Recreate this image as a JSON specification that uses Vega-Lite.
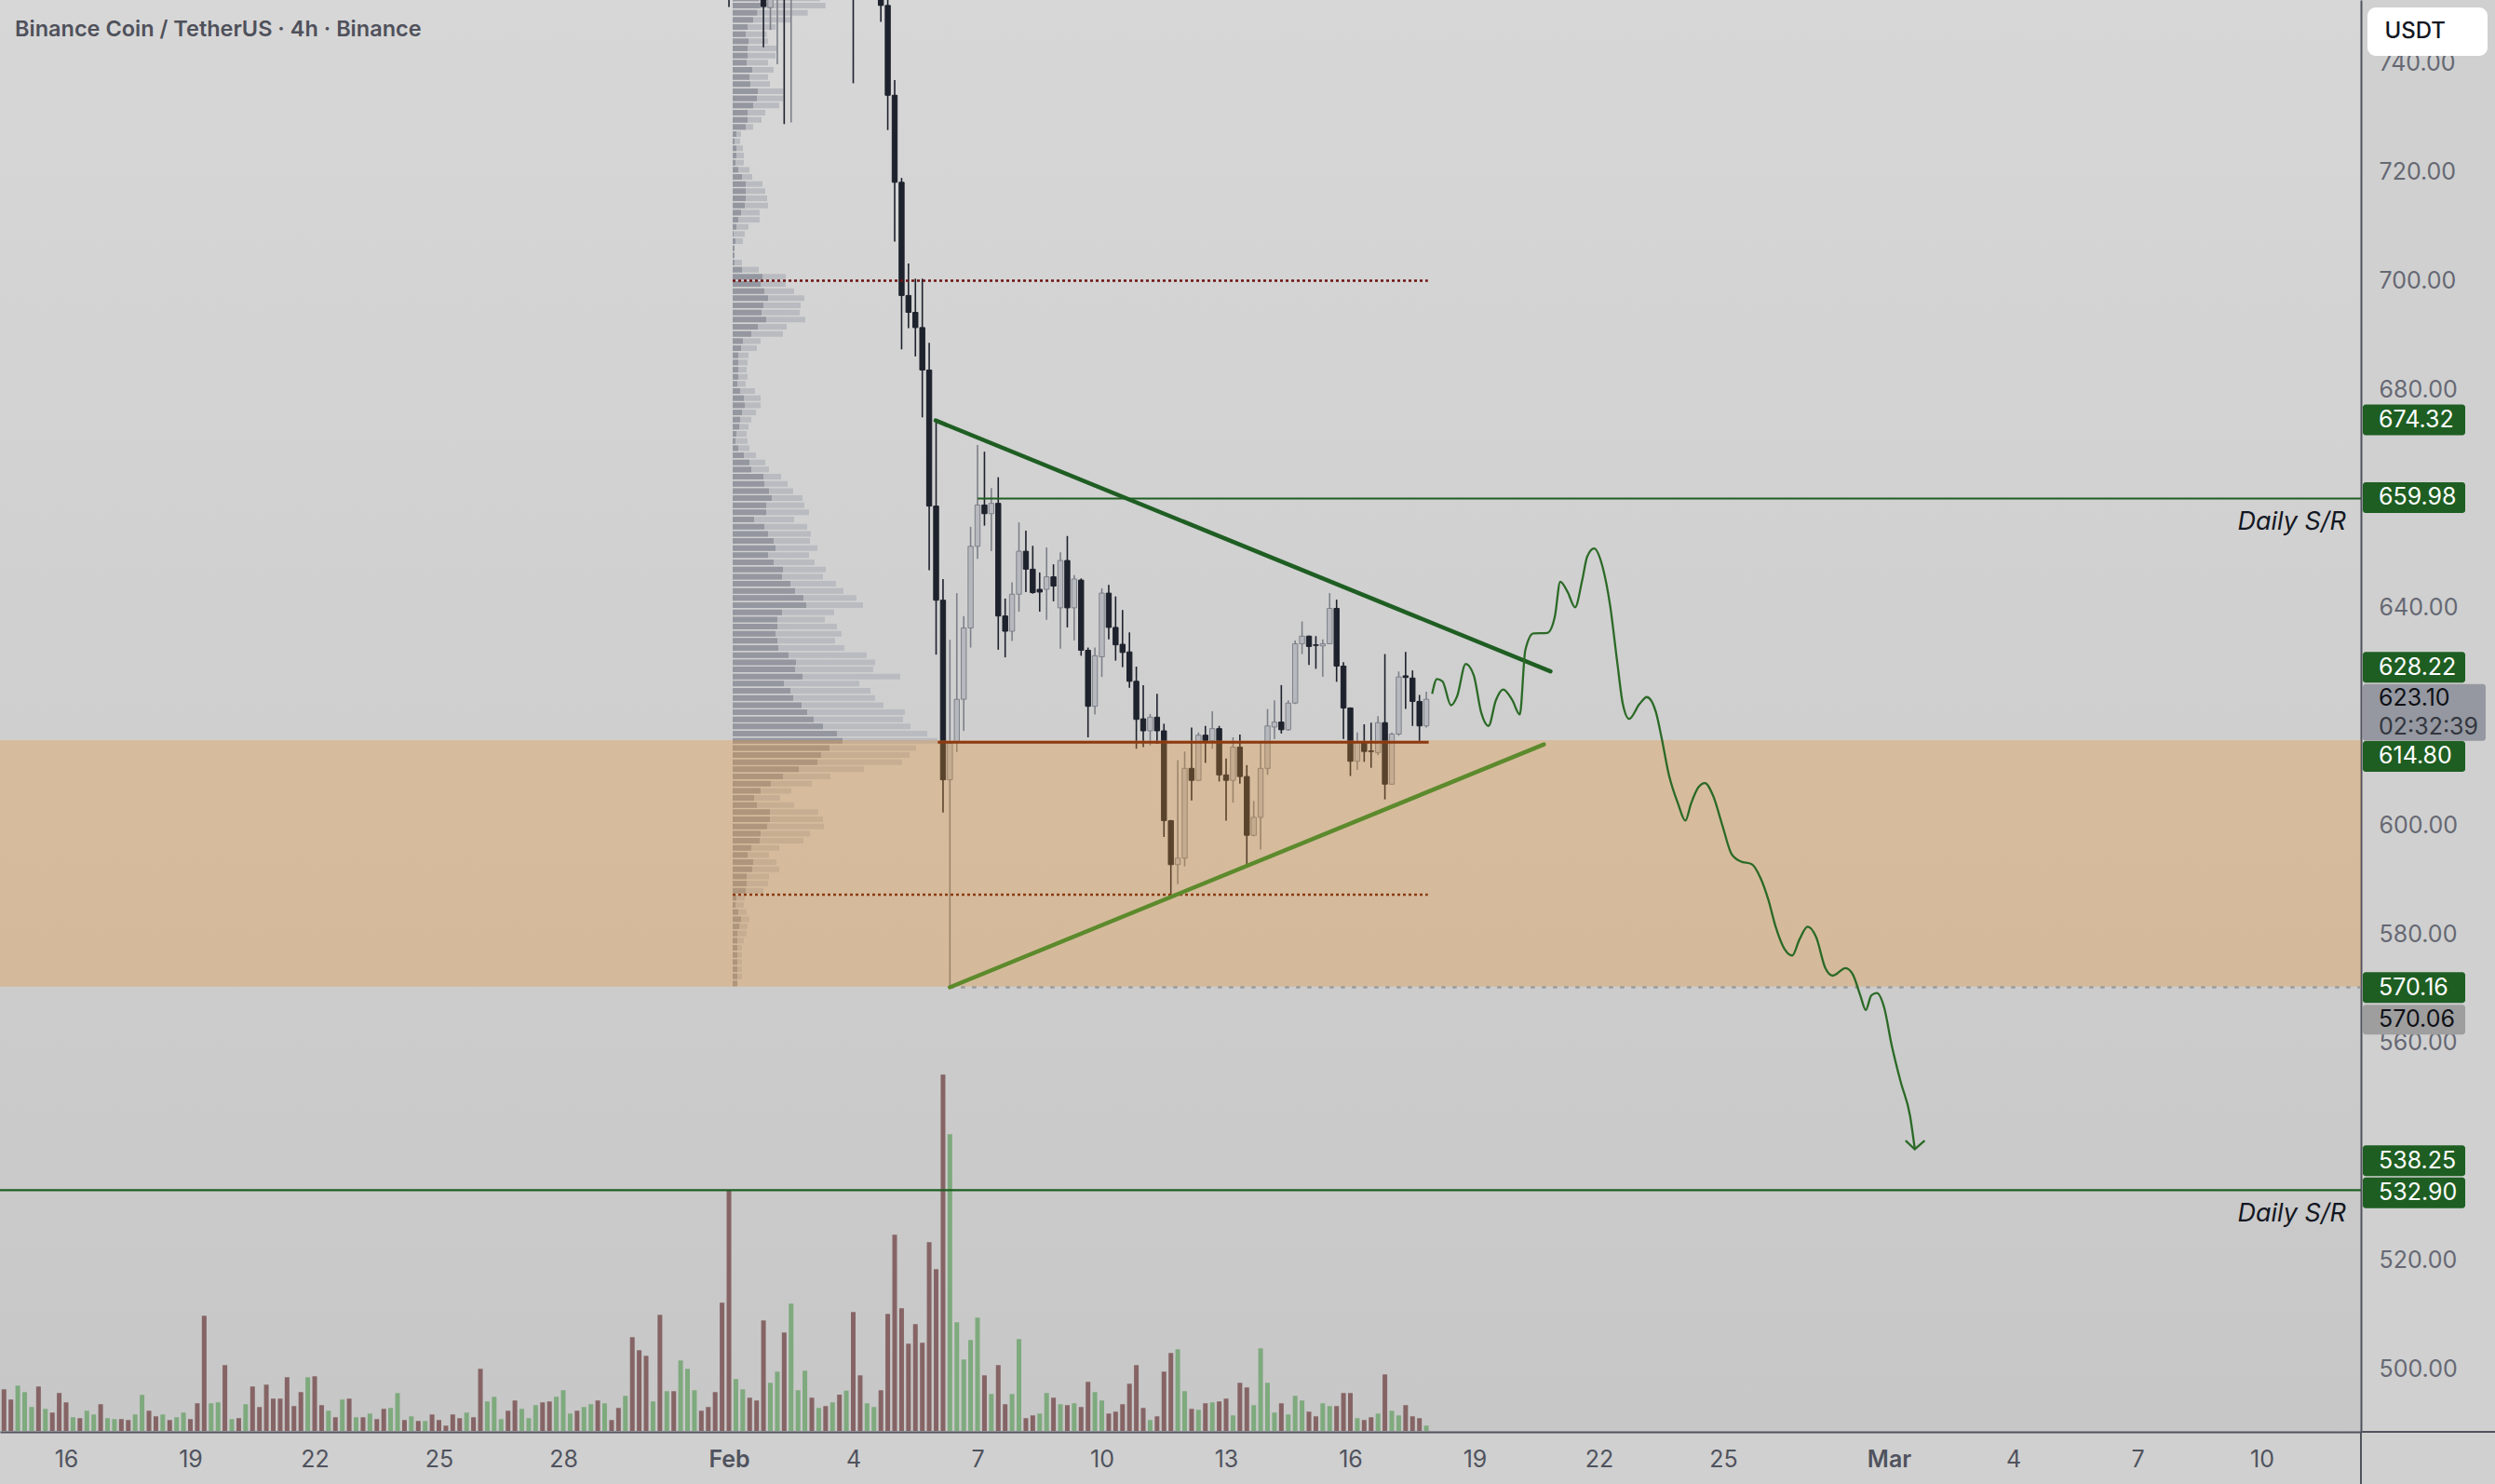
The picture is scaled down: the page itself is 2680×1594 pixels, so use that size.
{
"$schema":"https://vega.github.io/schema/vega-lite/v6.json",
"width":2536,"height":1538,"autosize":{"type":"none"},"padding":{"left":0,"top":0,"right":144,"bottom":56},
"background":"#d0d0d0",
"config":{
 "view":{"stroke":null,"fill":{"gradient":"linear","x1":0,"y1":0,"x2":0,"y2":1,"stops":[{"offset":0,"color":"#d7d7d7"},{"offset":1,"color":"#c7c7c7"}]}},
 "font":"Inter",
 "axis":{"title":null,"grid":false,"ticks":false,"tickSize":0}
},
"datasets":{
 "candles":[
{"d":0,"o":765,"h":770,"l":750.3,"c":755},
{"d":0.833,"o":762,"h":766,"l":742.9,"c":750.4},
{"d":1.0,"o":750.2,"h":764,"l":746.1,"c":758},
{"d":1.167,"o":755,"h":768,"l":739.8,"c":762},
{"d":1.333,"o":766,"h":770,"l":728.8,"c":757},
{"d":1.5,"o":757,"h":772,"l":729.1,"c":767},
{"d":3.0,"o":772,"h":778,"l":736.3,"c":762},
{"d":3.667,"o":758,"h":762,"l":747.6,"c":750.6},
{"d":3.833,"o":750.6,"h":752.5,"l":727.7,"c":734.1},
{"d":4.0,"o":734.1,"h":736.9,"l":707.2,"c":718.1},
{"d":4.167,"o":718.1,"h":718.9,"l":687.4,"c":697.3},
{"d":4.333,"o":697.3,"h":703.2,"l":691.3,"c":694.2},
{"d":4.5,"o":694.2,"h":700.4,"l":686.1,"c":691.4},
{"d":4.667,"o":691.4,"h":700.4,"l":674.9,"c":683.6},
{"d":4.833,"o":683.6,"h":688.6,"l":646.8,"c":658.6},
{"d":5.0,"o":658.6,"h":674.3,"l":631.3,"c":641.3},
{"d":5.167,"o":641.3,"h":645.2,"l":602.3,"c":608.3},
{"d":5.333,"o":608.3,"h":634.0,"l":570.1,"c":615.0},
{"d":5.5,"o":615.2,"h":642.6,"l":613.4,"c":623.1},
{"d":5.667,"o":623.1,"h":638.4,"l":617.3,"c":636.2},
{"d":5.833,"o":636.2,"h":654.8,"l":632.6,"c":651.2},
{"d":6.0,"o":651.2,"h":669.8,"l":648.9,"c":658.8},
{"d":6.167,"o":658.8,"h":668.6,"l":655.0,"c":657.2},
{"d":6.333,"o":657.2,"h":661.9,"l":650.3,"c":659.1},
{"d":6.5,"o":659.1,"h":663.9,"l":632.2,"c":638.4},
{"d":6.667,"o":638.4,"h":641.6,"l":630.8,"c":635.6},
{"d":6.833,"o":635.6,"h":644.6,"l":633.8,"c":642.4},
{"d":7.0,"o":642.4,"h":655.6,"l":639.2,"c":650.3},
{"d":7.167,"o":650.3,"h":654.1,"l":642.8,"c":647.0},
{"d":7.333,"o":647.0,"h":651.3,"l":642.5,"c":642.7},
{"d":7.5,"o":643.3,"h":646.4,"l":639.2,"c":642.8},
{"d":7.667,"o":643.3,"h":651.0,"l":637.7,"c":645.6},
{"d":7.833,"o":645.6,"h":647.9,"l":641.1,"c":643.9},
{"d":8.0,"o":639.9,"h":650.1,"l":632.4,"c":648.6},
{"d":8.167,"o":648.6,"h":653.1,"l":636.3,"c":639.9},
{"d":8.333,"o":639.9,"h":645.9,"l":633.9,"c":645.2},
{"d":8.5,"o":645.0,"h":645.3,"l":631.1,"c":632.1},
{"d":8.667,"o":632.1,"h":632.6,"l":616.1,"c":621.8},
{"d":8.833,"o":621.8,"h":632.6,"l":620.3,"c":631.1},
{"d":9.0,"o":630.9,"h":643.5,"l":627.2,"c":642.6},
{"d":9.167,"o":642.6,"h":644.1,"l":634.1,"c":636.3},
{"d":9.333,"o":636.3,"h":642.0,"l":630.2,"c":633.1},
{"d":9.5,"o":633.2,"h":639.5,"l":629.0,"c":631.7},
{"d":9.667,"o":631.8,"h":635.4,"l":625.2,"c":626.4},
{"d":9.833,"o":626.4,"h":629.1,"l":614.0,"c":619.4},
{"d":10.0,"o":619.5,"h":625.7,"l":614.3,"c":617.3},
{"d":10.167,"o":617.3,"h":620.4,"l":614.6,"c":619.8},
{"d":10.333,"o":619.8,"h":624.1,"l":614.9,"c":617.3},
{"d":10.5,"o":617.3,"h":618.6,"l":597.8,"c":600.8},
{"d":10.667,"o":600.8,"h":600.9,"l":587.0,"c":592.7},
{"d":10.833,"o":592.7,"h":611.9,"l":589.1,"c":593.9},
{"d":11.0,"o":593.9,"h":613.5,"l":592.4,"c":610.4},
{"d":11.167,"o":610.4,"h":617.9,"l":604.5,"c":608.2},
{"d":11.333,"o":608.2,"h":617.0,"l":608.1,"c":616.5},
{"d":11.5,"o":616.5,"h":618.2,"l":611.4,"c":615.5},
{"d":11.667,"o":615.5,"h":620.9,"l":614.0,"c":617.7},
{"d":11.833,"o":617.7,"h":618.2,"l":608.0,"c":609.2},
{"d":12.0,"o":609.2,"h":612.2,"l":600.8,"c":608.2},
{"d":12.167,"o":608.2,"h":616.1,"l":604.1,"c":614.3},
{"d":12.333,"o":614.3,"h":616.6,"l":607.6,"c":608.9},
{"d":12.5,"o":608.9,"h":611.0,"l":592.7,"c":598.1},
{"d":12.667,"o":598.1,"h":604.4,"l":597.9,"c":601.4},
{"d":12.833,"o":601.4,"h":615.2,"l":595.5,"c":610.4},
{"d":13.0,"o":610.4,"h":621.3,"l":609.2,"c":618.2},
{"d":13.167,"o":618.0,"h":622.9,"l":615.8,"c":618.9},
{"d":13.333,"o":618.9,"h":625.7,"l":616.8,"c":617.5},
{"d":13.5,"o":617.5,"h":622.9,"l":617.3,"c":622.4},
{"d":13.667,"o":622.4,"h":633.9,"l":622.2,"c":633.3},
{"d":13.833,"o":633.3,"h":637.4,"l":631.4,"c":634.7},
{"d":14.0,"o":634.7,"h":634.8,"l":629.4,"c":632.8},
{"d":14.167,"o":633.1,"h":634.7,"l":628.7,"c":633.0},
{"d":14.333,"o":632.9,"h":634.1,"l":627.2,"c":633.3},
{"d":14.5,"o":633.3,"h":642.6,"l":633.2,"c":639.8},
{"d":14.667,"o":639.8,"h":641.4,"l":626.3,"c":629.2},
{"d":14.833,"o":629.2,"h":629.9,"l":615.8,"c":621.5},
{"d":15.0,"o":621.5,"h":621.6,"l":609.0,"c":611.7},
{"d":15.167,"o":611.7,"h":617.0,"l":610.1,"c":615.2},
{"d":15.333,"o":615.2,"h":618.5,"l":611.6,"c":613.5},
{"d":15.5,"o":613.6,"h":618.8,"l":610.5,"c":613.5},
{"d":15.667,"o":613.3,"h":620.0,"l":612.8,"c":618.8},
{"d":15.833,"o":618.8,"h":631.4,"l":604.7,"c":607.5},
{"d":16.0,"o":607.5,"h":617.0,"l":607.4,"c":616.7},
{"d":16.167,"o":616.7,"h":628.2,"l":616.4,"c":627.2},
{"d":16.333,"o":627.4,"h":631.8,"l":621.3,"c":627.1},
{"d":16.5,"o":627.0,"h":628.4,"l":618.2,"c":622.7},
{"d":16.667,"o":622.7,"h":623.9,"l":615.3,"c":618.2},
{"d":16.833,"o":618.2,"h":624.5,"l":617.9,"c":623.1}
 ],
 "vol":[
{"d":-17.667,"v":53.3,"u":1},{"d":-17.5,"v":44.7,"u":0},{"d":-17.333,"v":33.7,"u":0},{"d":-17.167,"v":48.7,"u":1},{"d":-17.0,"v":41.7,"u":1},{"d":-16.833,"v":25.7,"u":1},{"d":-16.667,"v":47.7,"u":0},{"d":-16.5,"v":23.7,"u":1},{"d":-16.333,"v":19.7,"u":0},{"d":-16.167,"v":40.7,"u":0},
{"d":-16.0,"v":30.7,"u":0},{"d":-15.833,"v":14.7,"u":1},{"d":-15.667,"v":13.7,"u":0},{"d":-15.5,"v":21.7,"u":1},{"d":-15.333,"v":17.7,"u":1},{"d":-15.167,"v":28.7,"u":0},{"d":-15.0,"v":13.7,"u":1},{"d":-14.833,"v":12.7,"u":1},{"d":-14.667,"v":12.7,"u":0},{"d":-14.5,"v":11.7,"u":0},
{"d":-14.333,"v":17.7,"u":1},{"d":-14.167,"v":38.7,"u":1},{"d":-14.0,"v":21.7,"u":0},{"d":-13.833,"v":15.7,"u":0},{"d":-13.667,"v":17.7,"u":1},{"d":-13.5,"v":11.7,"u":0},{"d":-13.333,"v":14.7,"u":1},{"d":-13.167,"v":19.7,"u":1},{"d":-13.0,"v":12.7,"u":0},{"d":-12.833,"v":29.7,"u":0},
{"d":-12.667,"v":123.7,"u":0},{"d":-12.5,"v":29.7,"u":1},{"d":-12.333,"v":30.7,"u":1},{"d":-12.167,"v":70.7,"u":0},{"d":-12.0,"v":12.7,"u":1},{"d":-11.833,"v":13.7,"u":0},{"d":-11.667,"v":28.7,"u":1},{"d":-11.5,"v":47.7,"u":0},{"d":-11.333,"v":25.7,"u":0},{"d":-11.167,"v":49.7,"u":0},
{"d":-11.0,"v":34.7,"u":0},{"d":-10.833,"v":34.7,"u":0},{"d":-10.667,"v":57.7,"u":0},{"d":-10.5,"v":26.7,"u":0},{"d":-10.333,"v":41.7,"u":0},{"d":-10.167,"v":57.7,"u":1},{"d":-10.0,"v":58.7,"u":0},{"d":-9.833,"v":27.7,"u":0},{"d":-9.667,"v":21.7,"u":1},{"d":-9.5,"v":14.7,"u":0},
{"d":-9.333,"v":33.7,"u":1},{"d":-9.167,"v":34.7,"u":0},{"d":-9.0,"v":14.7,"u":1},{"d":-8.833,"v":14.7,"u":0},{"d":-8.667,"v":18.7,"u":1},{"d":-8.5,"v":12.7,"u":0},{"d":-8.333,"v":23.7,"u":0},{"d":-8.167,"v":24.7,"u":1},{"d":-8.0,"v":40.7,"u":1},{"d":-7.833,"v":11.7,"u":0},
{"d":-7.667,"v":15.7,"u":1},{"d":-7.5,"v":10.7,"u":0},{"d":-7.333,"v":10.7,"u":1},{"d":-7.167,"v":17.7,"u":0},{"d":-7.0,"v":11.7,"u":0},{"d":-6.833,"v":5.7,"u":0},{"d":-6.667,"v":17.7,"u":0},{"d":-6.5,"v":13.7,"u":0},{"d":-6.333,"v":19.7,"u":1},{"d":-6.167,"v":14.7,"u":0},
{"d":-6.0,"v":66.7,"u":0},{"d":-5.833,"v":31.7,"u":1},{"d":-5.667,"v":36.7,"u":1},{"d":-5.5,"v":12.7,"u":1},{"d":-5.333,"v":21.7,"u":0},{"d":-5.167,"v":32.7,"u":0},{"d":-5.0,"v":23.7,"u":1},{"d":-4.833,"v":13.7,"u":1},{"d":-4.667,"v":27.7,"u":1},{"d":-4.5,"v":30.7,"u":0},
{"d":-4.333,"v":31.7,"u":0},{"d":-4.167,"v":36.7,"u":1},{"d":-4.0,"v":43.7,"u":1},{"d":-3.833,"v":18.7,"u":1},{"d":-3.667,"v":21.7,"u":0},{"d":-3.5,"v":25.7,"u":1},{"d":-3.333,"v":28.7,"u":1},{"d":-3.167,"v":32.7,"u":0},{"d":-3.0,"v":29.7,"u":1},{"d":-2.833,"v":11.7,"u":0},
{"d":-2.667,"v":24.7,"u":0},{"d":-2.5,"v":37.7,"u":1},{"d":-2.333,"v":100.7,"u":0},{"d":-2.167,"v":86.7,"u":0},{"d":-2.0,"v":80.7,"u":0},{"d":-1.833,"v":31.7,"u":1},{"d":-1.667,"v":124.7,"u":0},{"d":-1.5,"v":42.7,"u":1},{"d":-1.333,"v":42.7,"u":0},{"d":-1.167,"v":75.7,"u":1},
{"d":-1.0,"v":66.7,"u":1},{"d":-0.833,"v":43.7,"u":1},{"d":-0.667,"v":21.7,"u":0},{"d":-0.5,"v":25.7,"u":0},{"d":-0.333,"v":41.7,"u":0},{"d":-0.167,"v":137.7,"u":0},{"d":0,"v":259,"u":0},{"d":0.167,"v":55.7,"u":1},{"d":0.333,"v":44.7,"u":1},{"d":0.5,"v":35.7,"u":0},
{"d":0.667,"v":32.7,"u":0},{"d":0.833,"v":118.7,"u":0},{"d":1.0,"v":51.7,"u":1},{"d":1.167,"v":63.7,"u":1},{"d":1.333,"v":105.7,"u":0},{"d":1.5,"v":136.7,"u":1},{"d":1.667,"v":43.7,"u":1},{"d":1.833,"v":64.7,"u":1},{"d":2.0,"v":35.7,"u":0},{"d":2.167,"v":24.7,"u":1},
{"d":2.333,"v":26.7,"u":0},{"d":2.5,"v":30.7,"u":1},
{"d":2.667,"v":39,"u":0},{"d":2.833,"v":43.3,"u":1},{"d":3.0,"v":127.7,"u":0},{"d":3.167,"v":59.7,"u":0},{"d":3.333,"v":29.7,"u":1},{"d":3.5,"v":25.7,"u":1},{"d":3.667,"v":43.7,"u":0},{"d":3.833,"v":125.7,"u":0},{"d":4.0,"v":210.7,"u":0},{"d":4.167,"v":131.7,"u":0},
{"d":4.333,"v":93.7,"u":0},{"d":4.5,"v":114.7,"u":0},{"d":4.667,"v":94.7,"u":0},{"d":4.833,"v":202.7,"u":0},{"d":5.0,"v":173.7,"u":0},{"d":5.167,"v":382.7,"u":0},{"d":5.333,"v":318.7,"u":1},{"d":5.5,"v":116.7,"u":1},{"d":5.667,"v":76.7,"u":1},{"d":5.833,"v":97.7,"u":1},
{"d":6.0,"v":121.7,"u":1},{"d":6.167,"v":59.7,"u":0},{"d":6.333,"v":39.7,"u":1},{"d":6.5,"v":70.7,"u":0},{"d":6.667,"v":28.7,"u":0},{"d":6.833,"v":39.7,"u":1},{"d":7.0,"v":98.7,"u":1},{"d":7.167,"v":13.7,"u":0},{"d":7.333,"v":16.7,"u":0},{"d":7.5,"v":18.7,"u":1},
{"d":7.667,"v":40.7,"u":1},{"d":7.833,"v":35.7,"u":0},{"d":8.0,"v":28.7,"u":1},{"d":8.167,"v":27.7,"u":0},{"d":8.333,"v":29.7,"u":1},{"d":8.5,"v":25.7,"u":0},{"d":8.667,"v":52.7,"u":0},{"d":8.833,"v":41.7,"u":1},{"d":9.0,"v":32.7,"u":1},{"d":9.167,"v":18.7,"u":0},
{"d":9.333,"v":20.7,"u":0},{"d":9.5,"v":28.7,"u":0},{"d":9.667,"v":50.7,"u":0},{"d":9.833,"v":70.7,"u":0},{"d":10.0,"v":24.7,"u":0},{"d":10.167,"v":11.7,"u":1},{"d":10.333,"v":15.7,"u":0},{"d":10.5,"v":63.7,"u":0},{"d":10.667,"v":83.7,"u":0},{"d":10.833,"v":87.7,"u":1},
{"d":11.0,"v":42.7,"u":1},{"d":11.167,"v":23.7,"u":0},{"d":11.333,"v":22.7,"u":1},{"d":11.5,"v":29.7,"u":0},{"d":11.667,"v":30.7,"u":1},{"d":11.833,"v":31.7,"u":0},{"d":12.0,"v":34.7,"u":0},{"d":12.167,"v":16.7,"u":1},{"d":12.333,"v":51.7,"u":0},{"d":12.5,"v":46.7,"u":0},
{"d":12.667,"v":27.7,"u":1},{"d":12.833,"v":88.7,"u":1},{"d":13.0,"v":51.7,"u":1},{"d":13.167,"v":19.7,"u":1},{"d":13.333,"v":29.7,"u":0},{"d":13.5,"v":17.7,"u":1},{"d":13.667,"v":37.7,"u":1},{"d":13.833,"v":32.7,"u":1},{"d":14.0,"v":20.7,"u":0},{"d":14.167,"v":15.7,"u":0},
{"d":14.333,"v":29.7,"u":1},{"d":14.5,"v":26.7,"u":1},{"d":14.667,"v":26.7,"u":0},{"d":14.833,"v":40.7,"u":0},{"d":15.0,"v":40.7,"u":0},{"d":15.167,"v":13.7,"u":1},{"d":15.333,"v":11.7,"u":0},{"d":15.5,"v":14.7,"u":0},{"d":15.667,"v":18.7,"u":1},{"d":15.833,"v":60.7,"u":0},
{"d":16.0,"v":21.7,"u":1},{"d":16.167,"v":16.7,"u":1},{"d":16.333,"v":27.7,"u":0},{"d":16.5,"v":15.7,"u":0},{"d":16.667,"v":13.7,"u":0},{"d":16.833,"v":5.7,"u":1}
 ],
 "prof":[
{"p":751.88,"u":28,"t":93.7},{"p":750.57,"u":29.7,"t":99.7},{"p":749.26,"u":26.3,"t":80.7},{"p":747.95,"u":22,"t":62},{"p":746.64,"u":16,"t":46.3},{"p":745.32,"u":14,"t":36.7},{"p":744.01,"u":17,"t":38},{"p":742.7,"u":16,"t":47.3},{"p":741.39,"u":16,"t":46},{"p":740.08,"u":15,"t":38},
{"p":738.77,"u":21,"t":44},{"p":737.45,"u":18,"t":38},{"p":736.14,"u":19,"t":40},{"p":734.83,"u":27,"t":54.3},{"p":733.52,"u":26,"t":54.3},{"p":732.21,"u":22,"t":50},{"p":730.89,"u":16,"t":35},{"p":729.58,"u":16,"t":31},{"p":728.27,"u":14,"t":22},{"p":726.96,"u":4,"t":9},
{"p":725.65,"u":2,"t":8},{"p":724.34,"u":4,"t":11},{"p":723.02,"u":4,"t":12},{"p":721.71,"u":3,"t":12},{"p":720.4,"u":6,"t":18},{"p":719.09,"u":10,"t":21},{"p":717.78,"u":14,"t":32},{"p":716.47,"u":14,"t":35},{"p":715.15,"u":14,"t":37},{"p":713.84,"u":13,"t":38},
{"p":712.53,"u":9,"t":29},{"p":711.22,"u":6,"t":29},{"p":709.91,"u":4,"t":17},{"p":708.6,"u":1,"t":13},{"p":707.28,"u":3,"t":11},{"p":705.97,"u":2,"t":2},{"p":704.66,"u":2,"t":2},{"p":703.35,"u":2,"t":10},{"p":702.04,"u":10,"t":28},{"p":700.73,"u":32,"t":57},
{"p":699.41,"u":30,"t":57},{"p":698.1,"u":34,"t":66},{"p":696.79,"u":38,"t":77},{"p":695.48,"u":33,"t":73},{"p":694.17,"u":31,"t":72},{"p":692.86,"u":36,"t":78},{"p":691.54,"u":27,"t":58},{"p":690.23,"u":20,"t":54},{"p":688.92,"u":11,"t":30},{"p":687.61,"u":9,"t":26},
{"p":686.3,"u":6,"t":17},{"p":684.99,"u":6,"t":16},{"p":683.67,"u":6,"t":15},{"p":682.36,"u":6,"t":16},{"p":681.05,"u":5,"t":14},{"p":679.74,"u":8,"t":24},{"p":678.43,"u":12,"t":30},{"p":677.12,"u":13,"t":30},{"p":675.8,"u":10,"t":25},{"p":674.49,"u":8,"t":20},
{"p":673.18,"u":7,"t":17},{"p":671.87,"u":4,"t":15},{"p":670.56,"u":3,"t":16},{"p":669.24,"u":6,"t":18},{"p":667.93,"u":12,"t":25},{"p":666.62,"u":18,"t":35},{"p":665.31,"u":20,"t":39},{"p":664.0,"u":33,"t":52},{"p":662.69,"u":34,"t":59},{"p":661.37,"u":39,"t":65},
{"p":660.06,"u":42,"t":75},{"p":658.75,"u":36,"t":77},{"p":657.44,"u":36,"t":82},{"p":656.13,"u":23,"t":66},{"p":654.82,"u":34,"t":80},{"p":653.5,"u":38,"t":84},{"p":652.19,"u":44,"t":83},{"p":650.88,"u":46,"t":91},{"p":649.57,"u":38,"t":82},{"p":648.26,"u":44,"t":88},
{"p":646.95,"u":54,"t":100},{"p":645.63,"u":53,"t":97},{"p":644.32,"u":62,"t":111},{"p":643.01,"u":67,"t":119},{"p":641.7,"u":76,"t":133},{"p":640.39,"u":79,"t":140},{"p":639.08,"u":53,"t":109},{"p":637.76,"u":48,"t":99},{"p":636.45,"u":48,"t":112},{"p":635.14,"u":46,"t":117},
{"p":633.83,"u":48,"t":110},{"p":632.52,"u":49,"t":120},{"p":631.21,"u":60,"t":144},{"p":629.89,"u":68,"t":153},{"p":628.58,"u":67,"t":151},{"p":627.27,"u":75,"t":180},{"p":625.96,"u":55,"t":136},{"p":624.65,"u":62,"t":148},{"p":623.34,"u":65,"t":153},{"p":622.02,"u":74,"t":162},
{"p":620.71,"u":80,"t":185},{"p":619.4,"u":87,"t":183},{"p":618.09,"u":97,"t":191},{"p":616.78,"u":112,"t":209},{"p":615.47,"u":118,"t":220},{"p":614.15,"u":104,"t":197},{"p":612.84,"u":95,"t":190},{"p":611.53,"u":91,"t":182},{"p":610.22,"u":71,"t":141},{"p":608.91,"u":54,"t":105},
{"p":607.6,"u":41,"t":85},{"p":606.28,"u":30,"t":63},{"p":604.97,"u":23,"t":51},{"p":603.66,"u":26,"t":66},{"p":602.35,"u":40,"t":92},{"p":601.04,"u":40,"t":97},{"p":599.73,"u":37,"t":98},{"p":598.41,"u":30,"t":83},{"p":597.1,"u":29,"t":76},{"p":595.79,"u":20,"t":50},
{"p":594.48,"u":16,"t":39},{"p":593.17,"u":22,"t":47},{"p":591.86,"u":21,"t":50},{"p":590.54,"u":15,"t":39},{"p":589.23,"u":15,"t":38},{"p":587.92,"u":14,"t":33},{"p":586.61,"u":4,"t":13},{"p":585.3,"u":3,"t":12},{"p":583.99,"u":6,"t":15},{"p":582.67,"u":9,"t":18},
{"p":581.36,"u":7,"t":16},{"p":580.05,"u":5,"t":15},{"p":578.74,"u":5,"t":12},{"p":577.43,"u":5,"t":10},{"p":576.12,"u":5,"t":10},{"p":574.8,"u":5,"t":10},{"p":573.49,"u":5,"t":10},{"p":572.18,"u":5,"t":10},{"p":570.87,"u":5,"t":5}
 ],
 "hl":[
{"k":"sr","d1":6.0,"d2":39.393,"p":659.98},
{"k":"sr","d1":-17.596,"d2":39.393,"p":532.9},
{"k":"poc","d1":5.04,"d2":16.89,"p":615.2},
{"k":"vah","d1":0.09,"d2":16.87,"p":700.0},
{"k":"val","d1":0.09,"d2":16.87,"p":587.2},
{"k":"low","d1":5.33,"d2":39.393,"p":570.16}
 ],
 "tri":[
{"k":"a","d1":4.99,"p1":674.32,"d2":19.83,"p2":628.22},
{"k":"b","d1":5.33,"p1":570.16,"d2":19.67,"p2":614.8}
 ],
 "path":[
{"d":16.974,"p":624.1},{"d":17.089,"p":626.8},{"d":17.223,"p":626.4},{"d":17.427,"p":622.0},{"d":17.578,"p":623.7},{"d":17.783,"p":629.6},{"d":17.978,"p":627.5},{"d":18.156,"p":620.7},{"d":18.334,"p":618.2},{"d":18.511,"p":622.9},{"d":18.689,"p":624.9},{"d":18.911,"p":622.9},{"d":19.089,"p":620.3},{"d":19.222,"p":632.1},{"d":19.418,"p":635.2},{"d":19.755,"p":635.3},{"d":19.933,"p":638.2},{"d":20.066,"p":644.7},{"d":20.244,"p":642.8},{"d":20.422,"p":640.0},{"d":20.599,"p":645.1},{"d":20.715,"p":649.3},{"d":20.884,"p":650.8},{"d":21.088,"p":647.4},{"d":21.266,"p":640.5},{"d":21.443,"p":629.8},{"d":21.577,"p":622.2},{"d":21.728,"p":619.5},{"d":21.977,"p":622.2},{"d":22.154,"p":623.5},{"d":22.376,"p":620.7},{"d":22.51,"p":616.1},{"d":22.688,"p":609.2},{"d":22.91,"p":603.9},{"d":23.087,"p":600.8},{"d":23.221,"p":603.9},{"d":23.398,"p":606.9},{"d":23.558,"p":607.7},{"d":23.754,"p":605.4},{"d":23.976,"p":600.0},{"d":24.198,"p":594.7},{"d":24.42,"p":593.3},{"d":24.687,"p":592.8},{"d":24.909,"p":590.1},{"d":25.087,"p":586.3},{"d":25.265,"p":581.3},{"d":25.487,"p":577.1},{"d":25.664,"p":576.0},{"d":25.842,"p":579.0},{"d":26.037,"p":581.3},{"d":26.242,"p":579.4},{"d":26.464,"p":573.7},{"d":26.642,"p":572.3},{"d":26.953,"p":573.7},{"d":27.13,"p":572.5},{"d":27.308,"p":568.7},{"d":27.441,"p":566.0},{"d":27.575,"p":568.7},{"d":27.708,"p":569.1},{"d":27.886,"p":566.4},{"d":28.064,"p":559.6},{"d":28.286,"p":552.7},{"d":28.508,"p":546.6},{"d":28.623,"p":540.5}
 ],
 "arrow":[{"d":28.401,"p":542.0},{"d":28.623,"p":540.4},{"d":28.863,"p":542.0}],
 "gl":[
{"p":674.44,"t":"674.32"},{"p":660.17,"t":"659.98"},{"p":628.96,"t":"628.22"},{"p":612.6,"t":"614.80"},{"p":570.1,"t":"570.16"},{"p":538.3,"t":"538.25"},{"p":532.4,"t":"532.90"}
 ],
 "sr":[{"p":655.7,"t":"Daily S/R"},{"p":528.5,"t":"Daily S/R"}],
 "frame":[{"d1":39.393,"d2":39.393,"p1":488.47,"p2":478.8},{"d1":39.393,"d2":42.7,"p1":488.47,"p2":488.47}]
},
"resolve":{"scale":{"x":"independent","y":"independent"}},
"layer":[
 {
  "data":{"name":"frame"},"mark":{"type":"rule","color":"#50535e","strokeWidth":2},
  "encoding":{
   "x":{"field":"d1","type":"quantitative","scale":{"domain":[-17.596,39.393],"nice":false,"zero":false,"padding":0},
    "axis":{"orient":"bottom","values":[-16,-13,-10,-7,-4,0,3,6,9,12,15,18,21,24,28,31,34,37],
     "labelExpr":"datum.value==0?'Feb':datum.value==28?'Mar':datum.value<0?format(datum.value+32,'d'):datum.value<28?format(datum.value+1,'d'):format(datum.value-27,'d')",
     "domain":true,"domainColor":"#50535e","domainWidth":2,"ticks":false,"tickSize":0,"labelPadding":29,"labelBaseline":"middle","labelFontSize":25,"labelColor":"#50535e","labelFont":"Inter",
     "labelFontWeight":{"condition":{"test":"datum.value==0||datum.value==28","value":600},"value":400},"labelOverlap":false,"labelFlush":false}},
   "x2":{"field":"d2"},
   "y":{"field":"p1","type":"quantitative","scale":{"domain":[488.47,751.6],"nice":false,"zero":false,"padding":0},
    "axis":{"orient":"right","values":[500,520,560,580,600,640,680,700,720,740],"format":".2f",
     "domain":true,"domainColor":"#50535e","domainWidth":2,"ticks":false,"tickSize":0,"labelPadding":19,"labelAlign":"left","labelBaseline":"middle","labelFontSize":25,"labelColor":"#666873","labelFont":"Inter","labelOverlap":false,"labelFlush":false}},
   "y2":{"field":"p2"}
  }
 },
 {
  "data":{"name":"prof"},
  "layer":[
   {"mark":{"type":"bar","height":6,"color":"#b9bbc0"},
    "encoding":{"x":{"field":"t","type":"quantitative","scale":{"domain":[-787,1749],"nice":false,"zero":false,"padding":0},"axis":null},"x2":{"datum":0},
     "y":{"field":"p","type":"quantitative","scale":{"domain":[488.47,751.6],"nice":false,"zero":false,"padding":0},"axis":null}}},
   {"mark":{"type":"bar","height":6,"color":"#9597a0"},
    "encoding":{"x":{"field":"u","type":"quantitative","axis":null},"x2":{"datum":0},
     "y":{"field":"p","type":"quantitative","axis":null}}}
  ]
 },
 {
  "data":{"name":"vol"},
  "mark":{"type":"bar","width":5},
  "encoding":{
   "x":{"field":"d","type":"quantitative","scale":{"domain":[-17.596,39.393],"nice":false,"zero":false,"padding":0},"axis":null},
   "y":{"field":"v","type":"quantitative","scale":{"domain":[-1,1537],"nice":false,"zero":false,"padding":0},"axis":null},
   "y2":{"datum":0},
   "color":{"condition":{"test":"datum.u==1","value":"#7eaa7e"},"value":"#866465"}
  }
 },
 {
  "layer":[
   {"data":{"name":"candles"},"mark":{"type":"rule","strokeWidth":1.6},
    "encoding":{
     "x":{"field":"d","type":"quantitative","scale":{"domain":[-17.596,39.393],"nice":false,"zero":false,"padding":0},"axis":null},
     "y":{"field":"l","type":"quantitative","scale":{"domain":[488.47,751.6],"nice":false,"zero":false,"padding":0},"axis":null},
     "y2":{"field":"h"},
     "color":{"condition":{"test":"datum.c>=datum.o","value":"#7d8089"},"value":"#1e222d"}}},
   {"data":{"name":"candles"},"mark":{"type":"bar","width":5.4,"strokeWidth":1},
    "encoding":{"x":{"field":"d","type":"quantitative","axis":null},"y":{"field":"o","type":"quantitative","axis":null},"y2":{"field":"c"},
     "fill":{"condition":{"test":"datum.c>=datum.o","value":"#b6b8be"},"value":"#1e222d"},
     "stroke":{"condition":{"test":"datum.c>=datum.o","value":"#7d8089"},"value":"#1e222d"}}},
   {"data":{"values":[{"d1":-17.596,"d2":39.393,"lo":570.3,"hi":615.6}]},"mark":{"type":"rect","color":"#e8932a","opacity":0.3},
    "encoding":{"x":{"field":"d1","type":"quantitative","axis":null},"x2":{"field":"d2"},"y":{"field":"lo","type":"quantitative","axis":null},"y2":{"field":"hi"}}},
   {"data":{"name":"hl"},"transform":[{"filter":"datum.k=='sr'"}],"mark":{"type":"rule","color":"#1e5e22","strokeWidth":2.2},
    "encoding":{"x":{"field":"d1","type":"quantitative","axis":null},"x2":{"field":"d2"},"y":{"field":"p","type":"quantitative","axis":null}}},
   {"data":{"name":"hl"},"transform":[{"filter":"datum.k=='poc'"}],"mark":{"type":"rule","color":"#8c3a12","strokeWidth":3},
    "encoding":{"x":{"field":"d1","type":"quantitative","axis":null},"x2":{"field":"d2"},"y":{"field":"p","type":"quantitative","axis":null}}},
   {"data":{"name":"hl"},"transform":[{"filter":"datum.k=='vah'"}],"mark":{"type":"rule","color":"#6e1111","strokeWidth":2.5,"strokeDash":[3,3]},
    "encoding":{"x":{"field":"d1","type":"quantitative","axis":null},"x2":{"field":"d2"},"y":{"field":"p","type":"quantitative","axis":null}}},
   {"data":{"name":"hl"},"transform":[{"filter":"datum.k=='val'"}],"mark":{"type":"rule","color":"#8c3a12","strokeWidth":2.5,"strokeDash":[3,3]},
    "encoding":{"x":{"field":"d1","type":"quantitative","axis":null},"x2":{"field":"d2"},"y":{"field":"p","type":"quantitative","axis":null}}},
   {"data":{"name":"hl"},"transform":[{"filter":"datum.k=='low'"}],"mark":{"type":"rule","color":"#9b9b9b","strokeWidth":2.5,"strokeDash":[4.5,7.5]},
    "encoding":{"x":{"field":"d1","type":"quantitative","axis":null},"x2":{"field":"d2"},"y":{"field":"p","type":"quantitative","axis":null}}},
   {"data":{"name":"tri"},"mark":{"type":"rule","strokeWidth":4.5,"strokeCap":"round"},
    "encoding":{"x":{"field":"d1","type":"quantitative","axis":null},"x2":{"field":"d2"},"y":{"field":"p1","type":"quantitative","axis":null},"y2":{"field":"p2"},
     "color":{"condition":{"test":"datum.k=='a'","value":"#1f5e23"},"value":"#5c8a2c"}}},
   {"data":{"name":"path"},"mark":{"type":"line","interpolate":"monotone","color":"#2b6a26","strokeWidth":2.3},
    "encoding":{"x":{"field":"d","type":"quantitative","axis":null},"y":{"field":"p","type":"quantitative","axis":null}}},
   {"data":{"name":"arrow"},"mark":{"type":"line","color":"#2b6a26","strokeWidth":2.3},
    "encoding":{"x":{"field":"d","type":"quantitative","axis":null},"y":{"field":"p","type":"quantitative","axis":null}}},
   {"data":{"name":"gl"},"mark":{"type":"tick","orient":"horizontal","size":110,"thickness":33,"color":"#1e5e22","opacity":1,"cornerRadius":3},
    "encoding":{"x":{"datum":40.674,"type":"quantitative","axis":null},"y":{"field":"p","type":"quantitative","axis":null}}},
   {"data":{"name":"gl"},"mark":{"type":"text","align":"left","baseline":"middle","color":"#ffffff","fontSize":25,"font":"Inter"},
    "encoding":{"x":{"datum":39.82,"type":"quantitative","axis":null},"y":{"field":"p","type":"quantitative","axis":null},"text":{"field":"t"}}},
   {"data":{"values":[{"p":620.67}]},"mark":{"type":"tick","orient":"horizontal","size":132,"thickness":61,"color":"#9598a0","opacity":1,"cornerRadius":3},
    "encoding":{"x":{"datum":40.921,"type":"quantitative","axis":null},"y":{"field":"p","type":"quantitative","axis":null}}},
   {"data":{"values":[{"p":564.2}]},"mark":{"type":"tick","orient":"horizontal","size":110,"thickness":32,"color":"#9e9e9e","opacity":1,"cornerRadius":3},
    "encoding":{"x":{"datum":40.674,"type":"quantitative","axis":null},"y":{"field":"p","type":"quantitative","axis":null}}},
   {"data":{"values":[{"p":623.29,"t":"623.10","k":"a"},{"p":618.0,"t":"02:32:39","k":"b"},{"p":564.2,"t":"570.06","k":"a"}]},"mark":{"type":"text","align":"left","baseline":"middle","fontSize":25,"font":"Inter"},
    "encoding":{"x":{"datum":39.82,"type":"quantitative","axis":null},"y":{"field":"p","type":"quantitative","axis":null},"text":{"field":"t"},
     "color":{"condition":{"test":"datum.k=='a'","value":"#0f1117"},"value":"#33363f"}}},
   {"data":{"values":[{"p":745.78}]},"mark":{"type":"tick","orient":"horizontal","size":129,"thickness":52,"color":"#ffffff","opacity":1,"cornerRadius":9},
    "encoding":{"x":{"datum":41.0,"type":"quantitative","axis":null},"y":{"field":"p","type":"quantitative","axis":null}}},
   {"data":{"values":[{"p":745.7,"t":"USDT"}]},"mark":{"type":"text","align":"center","baseline":"middle","fontSize":24,"fontWeight":500,"color":"#131722","font":"Inter"},
    "encoding":{"x":{"datum":40.70,"type":"quantitative","axis":null},"y":{"field":"p","type":"quantitative","axis":null},"text":{"field":"t"}}},
   {"data":{"name":"sr"},"mark":{"type":"text","align":"right","baseline":"middle","fontSize":27,"fontStyle":"italic","color":"#131722","font":"Inter"},
    "encoding":{"x":{"datum":39.03,"type":"quantitative","axis":null},"y":{"field":"p","type":"quantitative","axis":null},"text":{"field":"t"}}},
   {"data":{"values":[{"p":746.13,"t":"Binance Coin / TetherUS · 4h · Binance"}]},"mark":{"type":"text","align":"left","baseline":"middle","fontSize":23.5,"fontWeight":600,"color":"#4f515b","font":"Inter"},
    "encoding":{"x":{"datum":-17.236,"type":"quantitative","axis":null},"y":{"field":"p","type":"quantitative","axis":null},"text":{"field":"t"}}}
  ]
 }
]
}
